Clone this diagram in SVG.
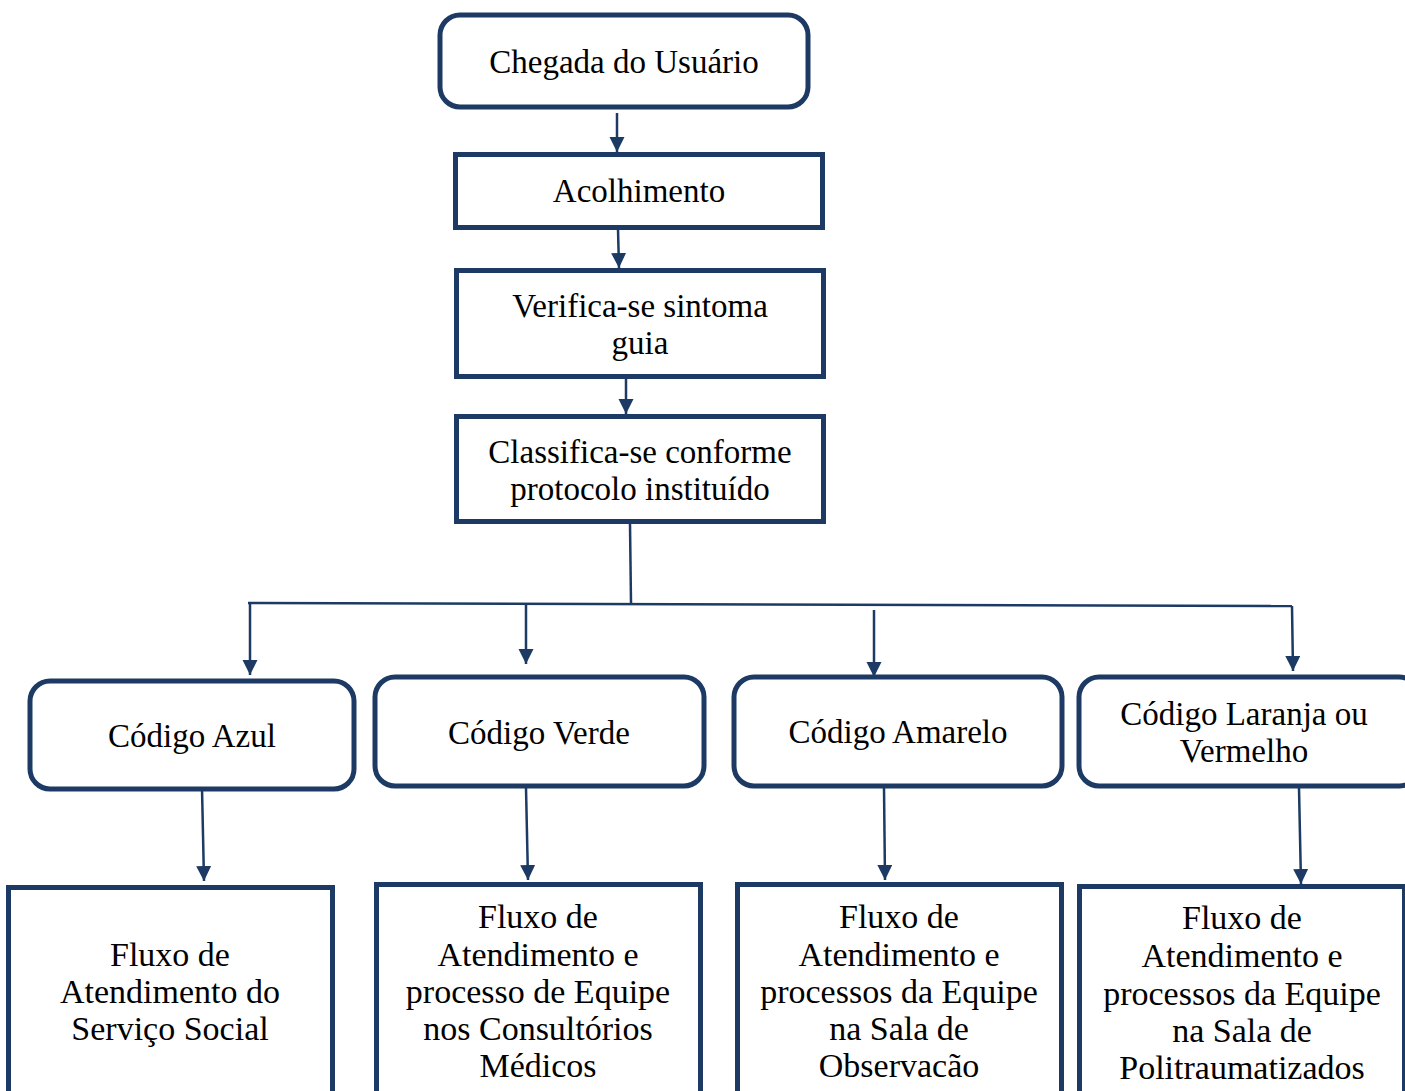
<svg xmlns="http://www.w3.org/2000/svg" width="1405" height="1091" viewBox="0 0 1405 1091">
<defs>
<marker id="ah" markerUnits="userSpaceOnUse" markerWidth="16" markerHeight="16" refX="15" refY="7.500" orient="auto">
<path d="M0,0 L15,7.500 L0,15 z" fill="#1c3a63"/>
</marker>
<style>
.box{fill:#fff;stroke:#1c3a63;stroke-width:5}
.t{font-family:"Liberation Serif","Times New Roman",serif;font-size:33px;fill:#000;text-anchor:middle}
.b{font-size:34px}
.c{fill:none;stroke:#1c3a63;stroke-width:2.5}
</style>
</defs>
<rect width="1405" height="1091" fill="#fff"/>
<g id="n1"><rect class="box" x="440" y="15" width="368" height="92" rx="20"/><text class="t" x="624" y="73">Chegada do Usuário</text></g>
<g id="n2"><rect class="box" x="455.500" y="154.500" width="367" height="73"/><text class="t" x="639" y="202">Acolhimento</text></g>
<g id="n3"><rect class="box" x="456.500" y="270.500" width="367" height="106"/><text class="t" x="640" y="317">Verifica-se sintoma</text><text class="t" x="640" y="354">guia</text></g>
<g id="n4"><rect class="box" x="456.500" y="416.500" width="367" height="105"/><text class="t" x="640" y="463">Classifica-se conforme</text><text class="t" x="640" y="500">protocolo instituído</text></g>
<g id="n5"><rect class="box" x="30" y="681" width="324" height="108" rx="20"/><text class="t" x="192" y="747">Código Azul</text></g>
<g id="n6"><rect class="box" x="375" y="677" width="329" height="109" rx="20"/><text class="t" x="539" y="744">Código Verde</text></g>
<g id="n7"><rect class="box" x="734" y="677" width="328" height="109" rx="20"/><text class="t" x="898" y="743">Código Amarelo</text></g>
<g id="n8"><rect class="box" x="1079" y="677" width="340" height="109" rx="20"/><text class="t" x="1244" y="725">Código Laranja ou</text><text class="t" x="1244" y="762">Vermelho</text></g>
<g id="n9"><rect class="box" x="8.500" y="887.500" width="324" height="220"/><text class="t b" x="170" y="966">Fluxo de</text><text class="t b" x="170" y="1003">Atendimento do</text><text class="t b" x="170" y="1040">Serviço Social</text></g>
<g id="n10"><rect class="box" x="376.500" y="884.500" width="324" height="220"/><text class="t b" x="538" y="928">Fluxo de</text><text class="t b" x="538" y="966">Atendimento e</text><text class="t b" x="538" y="1003">processo de Equipe</text><text class="t b" x="538" y="1040">nos Consultórios</text><text class="t b" x="538" y="1077">Médicos</text></g>
<g id="n11"><rect class="box" x="737.500" y="884.500" width="324" height="220"/><text class="t b" x="899" y="928">Fluxo de</text><text class="t b" x="899" y="966">Atendimento e</text><text class="t b" x="899" y="1003">processos da Equipe</text><text class="t b" x="899" y="1040">na Sala de</text><text class="t b" x="899" y="1077">Observacão</text></g>
<g id="n12"><rect class="box" x="1079.500" y="886.500" width="325" height="220"/><text class="t b" x="1242" y="929">Fluxo de</text><text class="t b" x="1242" y="967">Atendimento e</text><text class="t b" x="1242" y="1005">processos da Equipe</text><text class="t b" x="1242" y="1042">na Sala de</text><text class="t b" x="1242" y="1079">Politraumatizados</text></g>
<g id="connectors">
<line class="c" x1="617" y1="113" x2="617" y2="152" marker-end="url(#ah)"/>
<line class="c" x1="618" y1="229" x2="619" y2="268" marker-end="url(#ah)"/>
<line class="c" x1="626" y1="379" x2="626" y2="414" marker-end="url(#ah)"/>
<polyline class="c" points="630,524 631,603"/>
<polyline class="c" points="248,603 1292,606"/>
<line class="c" x1="250" y1="604" x2="250" y2="675" marker-end="url(#ah)"/>
<line class="c" x1="526" y1="603" x2="526" y2="664" marker-end="url(#ah)"/>
<line class="c" x1="874" y1="610" x2="874" y2="677" marker-end="url(#ah)"/>
<line class="c" x1="1292" y1="606" x2="1293" y2="671" marker-end="url(#ah)"/>
<line class="c" x1="202" y1="788" x2="204" y2="881" marker-end="url(#ah)"/>
<line class="c" x1="526" y1="788" x2="528" y2="880" marker-end="url(#ah)"/>
<line class="c" x1="884" y1="788" x2="885" y2="880" marker-end="url(#ah)"/>
<line class="c" x1="1299" y1="788" x2="1301" y2="884" marker-end="url(#ah)"/>
</g>
</svg>
